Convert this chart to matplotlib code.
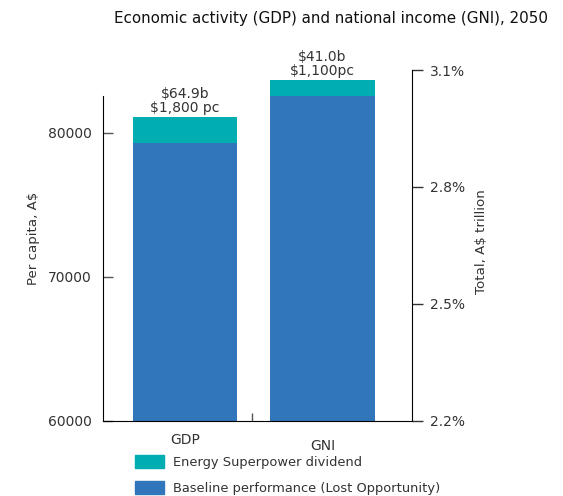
import matplotlib
matplotlib.use('Agg')
from matplotlib import pyplot as plt
from matplotlib.patches import Patch
import numpy as np

# data (per capita, A$)
categories = ['GDP', 'GNI']
baseline = [79300, 82570]
dividend = [1800, 1100]
annotations = ['\\$64.9b\n\\$1,800 pc', '\\$41.0b\n\\$1,100pc']
right_ticks = [2.2, 2.5, 2.8, 3.1]
right_labels = ['2.2%', '2.5%', '2.8%', '3.1%']
left_ticks = [60000, 70000, 80000]

teal = '#00adb0'
blue = '#3176bb'
txt = '#333333'

plt.rcParams['font.family'] = ['DejaVu Sans']
plt.rcParams['font.size'] = 10

fig = plt.figure(figsize=(5.63, 4.96), dpi=100)
ax = fig.add_axes([103/563, 1 - 420.7/496, 309/563, 350.7/496])

x = np.arange(len(categories))
ax.bar(x, baseline, width=0.76, color=blue, zorder=2)
ax.bar(x, dividend, bottom=baseline, width=0.76, color=teal, zorder=2)

for i in range(len(categories)):
    ax.text(x[i], baseline[i] + dividend[i] + 150, annotations[i], ha='center', va='bottom',
            color=txt, fontsize=10, linespacing=0.95)

ax.set_xlim(-0.596, 1.651)
ax.set_ylim(60000, 84354)
ax.set_yticks(left_ticks)
ax.set_yticklabels([str(t) for t in left_ticks], color=txt)
ax.tick_params(axis='y', direction='in', length=7, width=1, pad=8, colors='#555555', labelcolor=txt)
ax.spines['left'].set_bounds(60000, 82550)
ax.spines['top'].set_visible(False)
ax.spines['right'].set_visible(False)

ax.set_xticks(x)
ax.set_xticklabels(categories, color=txt)
ax.tick_params(axis='x', length=0, pad=9)
ax.xaxis.get_major_ticks()[1].set_pad(13)
ax.set_xticks([0.485], minor=True)
ax.tick_params(axis='x', which='minor', direction='in', length=6, width=1, color='#555555')

ax.set_ylabel('Per capita, A\\$', color=txt, fontsize=9.6)
ax.yaxis.set_label_coords(-0.205, 0.52)

ax2 = ax.twinx()
ax2.set_ylim(2.2, 3.1)
ax2.set_yticks(right_ticks)
ax2.set_yticklabels(right_labels, color=txt)
ax2.tick_params(axis='y', direction='out', length=8, width=1, pad=5, colors='#333333')
for s in ['top', 'left', 'bottom']:
    ax2.spines[s].set_visible(False)
ax2.set_ylabel('Total, A\\$ trillion', color=txt, fontsize=9.6)
ax2.yaxis.set_label_coords(1.205, 0.51)

fig.text(331/563, 1 - 18/496, 'Economic activity (GDP) and national income (GNI), 2050',
         ha='center', va='center', fontsize=10.9, fontweight='medium', color='#111111')

handles = [Patch(color=teal), Patch(color=blue)]
labels = ['Energy Superpower dividend', 'Baseline performance (Lost Opportunity)']
fig.legend(handles, labels, loc='upper left', bbox_to_anchor=(126/563, 1 - 446/496),
           frameon=False, handlelength=2.22, handleheight=1.15, handletextpad=0.65,
           labelspacing=0.95, labelcolor=txt, fontsize=9.4, borderpad=0.2)

fig.savefig('out.png', dpi=100)
